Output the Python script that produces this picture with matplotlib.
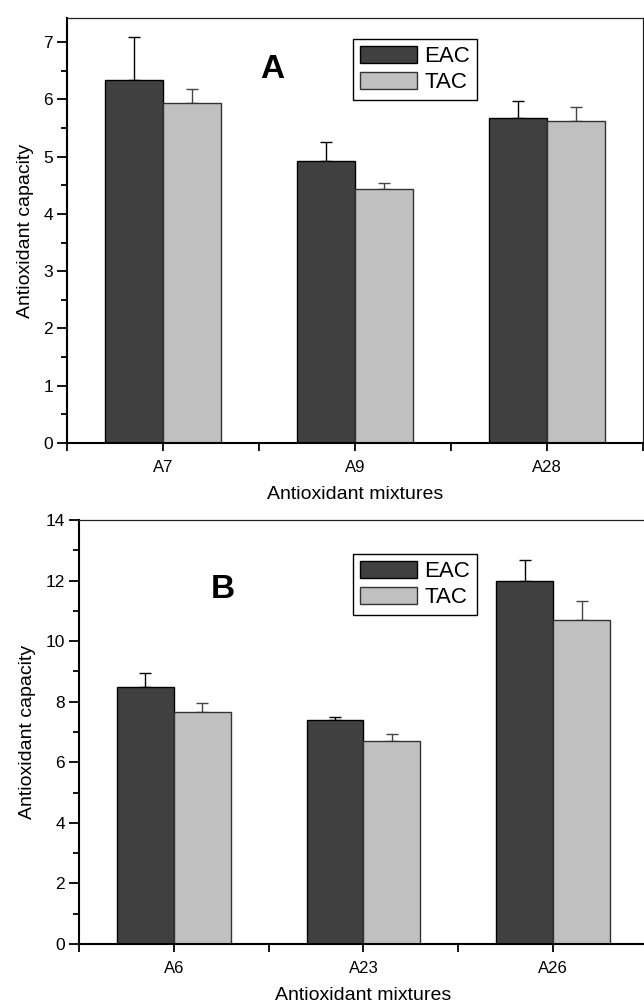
import numpy as np
import matplotlib.pyplot as plt
from matplotlib.ticker import MultipleLocator

plt.rcParams['font.family'] = ['Liberation Sans', 'DejaVu Sans']

# panel A data
categories_a = ['A7', 'A9', 'A28']
eac_a = [6.33, 4.92, 5.67]
eac_a_err = [0.75, 0.33, 0.30]
tac_a = [5.93, 4.44, 5.63]
tac_a_err = [0.25, 0.10, 0.23]

# panel B data
categories_b = ['A6', 'A23', 'A26']
eac_b = [8.49, 7.39, 12.0]
eac_b_err = [0.47, 0.10, 0.69]
tac_b = [7.65, 6.71, 10.69]
tac_b_err = [0.30, 0.23, 0.62]

series_labels = ['EAC', 'TAC']
dark = '#404040'
light = '#c0c0c0'

W, H = 644, 1006
fig = plt.figure(figsize=(W / 100, H / 100), dpi=100)


def panel(rect, cats, eac, eac_err, tac, tac_err, ymax, major, minor, letter, letter_xy, leg_xy):
    ax = fig.add_axes(rect)
    x = np.arange(len(cats))
    w = 0.3
    ax.bar(x - w, eac, w, align='edge', color=dark, edgecolor='black', linewidth=1.0,
           label=series_labels[0], zorder=2)
    ax.bar(x, tac, w, align='edge', color=light, edgecolor='#333333', linewidth=1.0,
           label=series_labels[1], zorder=2)
    ax.errorbar(x - w / 2, eac, yerr=[np.zeros(len(eac)), eac_err], fmt='none',
                ecolor='black', elinewidth=1.0, capsize=4, capthick=1.0, zorder=1)
    ax.errorbar(x + w / 2, tac, yerr=[np.zeros(len(tac)), tac_err], fmt='none',
                ecolor='#444444', elinewidth=1.0, capsize=4, capthick=1.0, zorder=1)

    ax.set_xlim(-0.5, len(cats) - 0.5)
    ax.set_ylim(0, ymax)
    ax.set_xticks(x)
    ax.set_xticklabels(cats, fontsize=12)
    ax.set_xticks(np.arange(-0.5, len(cats)), minor=True)
    ax.yaxis.set_major_locator(MultipleLocator(major))
    ax.yaxis.set_minor_locator(MultipleLocator(minor))
    ax.tick_params(axis='y', which='major', direction='out', length=7, width=1.3,
                   labelsize=12.5, pad=3)
    ax.tick_params(axis='y', which='minor', direction='out', length=4, width=1.3)
    ax.tick_params(axis='x', which='both', direction='out', length=6, width=1.3,
                   labelsize=12, pad=6)
    for s in ['left', 'bottom']:
        ax.spines[s].set_linewidth(1.5)
    for s in ['top', 'right']:
        ax.spines[s].set_linewidth(0.9)
        ax.spines[s].set_color('#222222')

    ax.set_xlabel('Antioxidant mixtures', fontsize=14, labelpad=8)
    ax.set_ylabel('Antioxidant capacity', fontsize=14, labelpad=7)

    fig.text(letter_xy[0] / W, 1 - letter_xy[1] / H, letter, fontsize=24,
             fontweight='bold', ha='center', va='center')

    leg = ax.legend(loc='upper left', bbox_to_anchor=(leg_xy[0] / W, 1 - leg_xy[1] / H),
                    bbox_transform=fig.transFigure, fontsize=16, frameon=True,
                    fancybox=False, edgecolor='black', framealpha=1,
                    handlelength=2.6, handleheight=0.85, handletextpad=0.3,
                    labelspacing=0.2, borderpad=0.3, borderaxespad=0)
    leg.get_frame().set_linewidth(1.0)
    return ax


panel([67 / W, 1 - 443 / H, 576 / W, 425 / H], categories_a, eac_a, eac_a_err,
      tac_a, tac_a_err, 7.42, 1, 0.5, 'A', (272, 70), (353, 39))
panel([79 / W, 1 - 944 / H, 569 / W, 424 / H], categories_b, eac_b, eac_b_err,
      tac_b, tac_b_err, 14, 2, 1, 'B', (223, 589), (353, 554))

fig.savefig('out.png', dpi=100)
